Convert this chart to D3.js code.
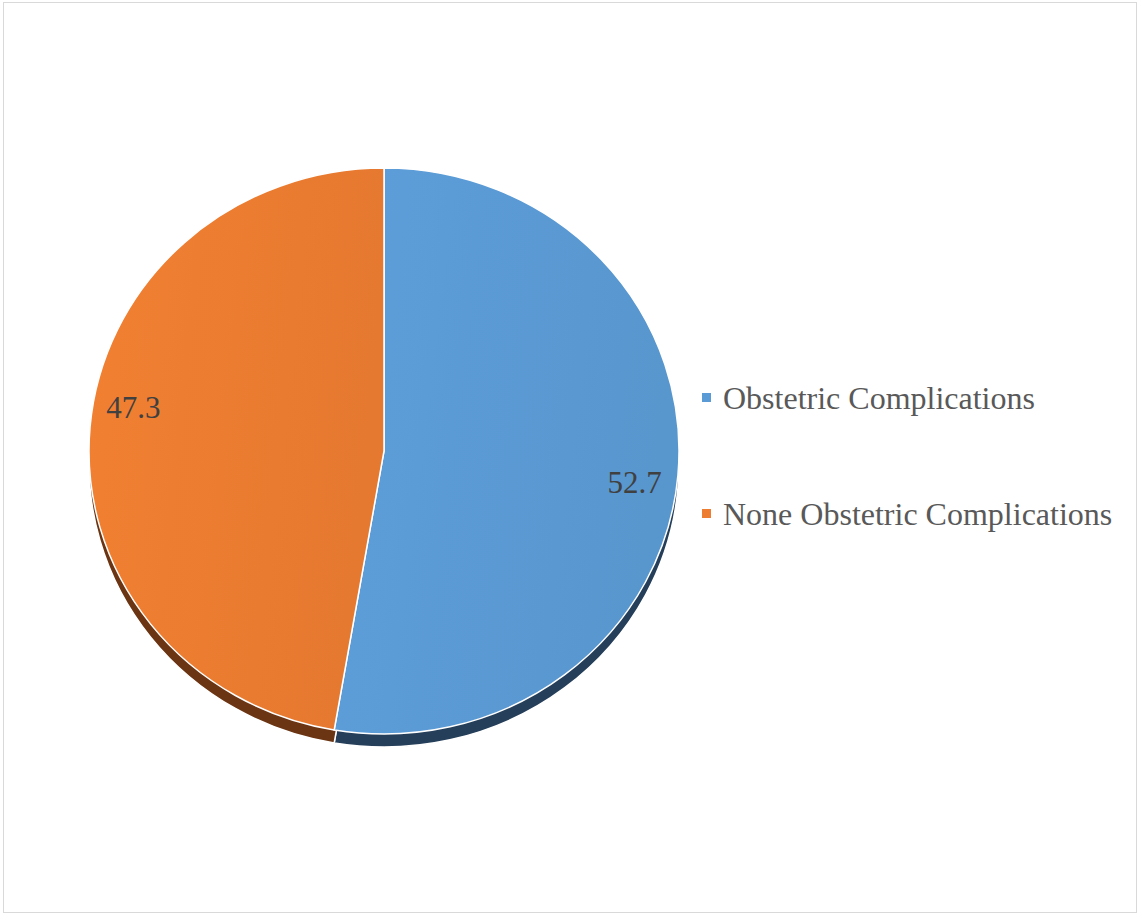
<!DOCTYPE html>
<html>
<head>
<meta charset="utf-8">
<script src="https://cdn.jsdelivr.net/npm/d3@7"></script>
<style>
  body { margin: 0; background: #fff; }
</style>
</head>
<body>
<svg></svg>
<script>
// data
var categories = ['Obstetric Complications', 'None Obstetric Complications'];
var values = [52.7, 47.3];
var faceColors = ['#5B9BD5', '#ED7D31'];
var sideColors = ['#253F5A', '#6B3412'];

var W = 1139, H = 915;
var svg = d3.select('svg').attr('width', W).attr('height', H);

// frame
svg.append('rect').attr('x', 3.5).attr('y', 2.5).attr('width', 1133).attr('height', 910)
    .attr('fill', '#fff').attr('stroke', '#d9d9d9').attr('stroke-width', 1);

var cx = 384, cy = 451, rx = 295, ry = 283, depth = 13;
var k = ry / rx;

var pie = d3.pie().sort(null).value(function(d) { return d; });
var arcs = pie(values);
var arc = d3.arc().innerRadius(0).outerRadius(rx);

// gradients for faces
var defs = svg.append('defs');
faceColors.forEach(function(c, i) {
    var g = defs.append('linearGradient').attr('id', 'g' + i)
        .attr('x1', '0%').attr('y1', '0%').attr('x2', '100%').attr('y2', '20%');
    g.append('stop').attr('offset', '0%').attr('stop-color', d3.color(c).brighter(0.06));
    g.append('stop').attr('offset', '100%').attr('stop-color', d3.color(c).darker(0.1));
});

// side (extruded bottom)
var side = svg.append('g').attr('transform', 'translate(' + cx + ',' + (cy + depth) + ') scale(1,' + k + ')');
side.selectAll('path').data(arcs).enter().append('path')
    .attr('d', arc)
    .attr('fill', function(d, i) { return sideColors[i]; })
    .attr('stroke', '#fff').attr('stroke-width', 1.5)
    .attr('vector-effect', 'non-scaling-stroke');

// top face
var face = svg.append('g').attr('transform', 'translate(' + cx + ',' + cy + ') scale(1,' + k + ')');
face.selectAll('path').data(arcs).enter().append('path')
    .attr('d', arc)
    .attr('fill', function(d, i) { return 'url(#g' + i + ')'; })
    .attr('stroke', '#fff').attr('stroke-width', 1.5)
    .attr('vector-effect', 'non-scaling-stroke');

// data labels (3D tilt shifts them a little around the pie)
var labelR = 0.86 * rx, tilt = 0.07;
function midA(d) { return (d.startAngle + d.endAngle) / 2 + tilt; }
svg.selectAll('text.lbl').data(arcs).enter().append('text')
    .attr('class', 'lbl')
    .attr('x', function(d) { return cx + labelR * Math.sin(midA(d)); })
    .attr('y', function(d) { return cy - labelR * k * Math.cos(midA(d)); })
    .attr('dy', '0.15em')
    .attr('text-anchor', 'middle')
    .attr('font-family', '"Liberation Serif", "Times New Roman", serif')
    .attr('font-size', 31)
    .attr('fill', '#404040')
    .text(function(d) { return d.data.toFixed(1); });

// legend
var legend = svg.append('g').attr('transform', 'translate(702,0)');
var ly = d3.scalePoint().domain(categories).range([393, 509]);
var item = legend.selectAll('g').data(categories).enter().append('g')
    .attr('transform', function(d) { return 'translate(0,' + ly(d) + ')'; });
item.append('rect').attr('x', 0).attr('y', 0).attr('width', 9).attr('height', 9)
    .attr('fill', function(d, i) { return faceColors[i]; });
item.append('text').attr('x', 21).attr('y', 16)
    .attr('font-family', '"Liberation Serif", "Times New Roman", serif')
    .attr('font-size', 32)
    .attr('fill', '#595959')
    .text(function(d) { return d; });
</script>
</body>
</html>
